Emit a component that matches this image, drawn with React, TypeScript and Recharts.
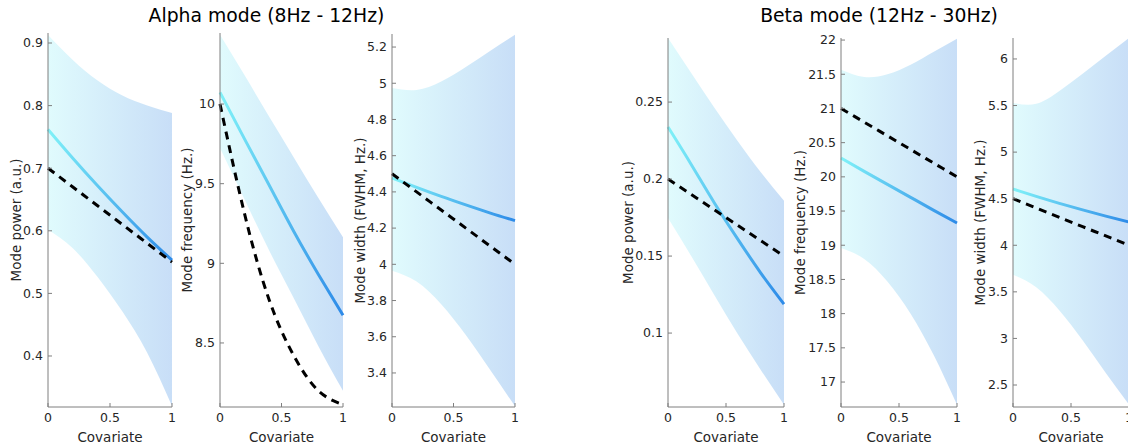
import { ComposedChart, Area, Line, XAxis, YAxis } from "recharts";

// covariate sample points
const covariate = [0, 0.2, 0.4, 0.6, 0.8, 1];

// alpha mode
const alphaPowerUpper = [0.913, 0.873, 0.84, 0.816, 0.8, 0.788];
const alphaPowerLower = [0.602, 0.572, 0.526, 0.471, 0.405, 0.32];
const alphaPowerMean = [0.762, 0.716, 0.672, 0.63, 0.59, 0.553];
const alphaPowerTrue = [0.7, 0.67, 0.64, 0.61, 0.58, 0.55];

const alphaFreqUpper = [10.435, 10.18, 9.92, 9.665, 9.41, 9.163];
const alphaFreqLower = [9.724, 9.4, 9.08, 8.78, 8.48, 8.2];
const alphaFreqMean = [10.073, 9.78, 9.49, 9.2, 8.93, 8.674];
const alphaFreqTrue = [10.0, 9.31, 8.77, 8.42, 8.2, 8.113];

const alphaWidthUpper = [4.974, 4.963, 5.01, 5.09, 5.18, 5.268];
const alphaWidthLower = [3.965, 3.905, 3.78, 3.61, 3.415, 3.216];
const alphaWidthMean = [4.477, 4.425, 4.375, 4.328, 4.283, 4.241];
const alphaWidthTrue = [4.5, 4.4, 4.3, 4.2, 4.1, 4.0];

// beta mode
const betaPowerUpper = [0.2916, 0.2688, 0.2463, 0.2248, 0.2045, 0.186];
const betaPowerLower = [0.1747, 0.15, 0.1245, 0.0995, 0.076, 0.0534];
const betaPowerMean = [0.2338, 0.2095, 0.1845, 0.1612, 0.139, 0.1188];
const betaPowerTrue = [0.2, 0.19, 0.18, 0.17, 0.16, 0.15];

const betaFreqUpper = [21.566, 21.46, 21.5, 21.64, 21.83, 22.02];
const betaFreqLower = [18.96, 18.8, 18.47, 18.0, 17.39, 16.668];
const betaFreqMean = [20.275, 20.08, 19.89, 19.7, 19.51, 19.325];
const betaFreqTrue = [21, 20.8, 20.6, 20.4, 20.2, 20];

const betaWidthUpper = [5.528, 5.518, 5.655, 5.84, 6.035, 6.225];
const betaWidthLower = [3.684, 3.55, 3.3, 2.98, 2.63, 2.29];
const betaWidthMean = [4.604, 4.525, 4.45, 4.38, 4.313, 4.25];
const betaWidthTrue = [4.5, 4.4, 4.3, 4.2, 4.1, 4.0];

const xTicks = [0, 0.5, 1];

const FONT = "'DejaVu Sans', sans-serif";
const AXIS = "#7f7f7f";
const TEXT = "#262626";
const TICK_MARGIN = 5;
const PLOT_BOTTOM = 407;

type Panel = {
  id: string;
  label: string;
  left: number; // pixel of covariate 0
  right: number; // pixel of covariate 1
  top: number;
  labelOffset: number;
  domain: [number, number];
  ticks: number[];
  upper: number[];
  lower: number[];
  mean: number[];
  truth: number[];
};

const panels: Panel[] = [
  {
    id: "ap", label: "Mode power (a.u.)", left: 48, right: 172, top: 33, labelOffset: 32,
    domain: [0.3185, 0.916], ticks: [0.4, 0.5, 0.6, 0.7, 0.8, 0.9],
    upper: alphaPowerUpper, lower: alphaPowerLower, mean: alphaPowerMean, truth: alphaPowerTrue,
  },
  {
    id: "af", label: "Mode frequency (Hz.)", left: 220, right: 343, top: 33, labelOffset: 33,
    domain: [8.098, 10.446], ticks: [8.5, 9, 9.5, 10],
    upper: alphaFreqUpper, lower: alphaFreqLower, mean: alphaFreqMean, truth: alphaFreqTrue,
  },
  {
    id: "aw", label: "Mode width (FWHM, Hz.)", left: 392, right: 515, top: 34, labelOffset: 32,
    domain: [3.212, 5.272], ticks: [3.4, 3.6, 3.8, 4, 4.2, 4.4, 4.6, 4.8, 5, 5.2],
    upper: alphaWidthUpper, lower: alphaWidthLower, mean: alphaWidthMean, truth: alphaWidthTrue,
  },
  {
    id: "bp", label: "Mode power (a.u.)", left: 668, right: 784, top: 38, labelOffset: 40,
    domain: [0.052, 0.2916], ticks: [0.1, 0.15, 0.2, 0.25],
    upper: betaPowerUpper, lower: betaPowerLower, mean: betaPowerMean, truth: betaPowerTrue,
  },
  {
    id: "bf", label: "Mode frequency (Hz.)", left: 841, right: 957, top: 38, labelOffset: 41,
    domain: [16.635, 22.03], ticks: [17, 17.5, 18, 18.5, 19, 19.5, 20, 20.5, 21, 21.5, 22],
    upper: betaFreqUpper, lower: betaFreqLower, mean: betaFreqMean, truth: betaFreqTrue,
  },
  {
    id: "bw", label: "Mode width (FWHM, Hz.)", left: 1013, right: 1129, top: 38, labelOffset: 33,
    domain: [2.264, 6.225], ticks: [2.5, 3, 3.5, 4, 4.5, 5, 5.5, 6],
    upper: betaWidthUpper, lower: betaWidthLower, mean: betaWidthMean, truth: betaWidthTrue,
  },
];

const YTick = (props: any) => {
  const { x, y, payload } = props;
  const ax = x + TICK_MARGIN;
  return (
    <g>
      <line x1={ax} x2={ax + 4} y1={y} y2={y} stroke={AXIS} strokeWidth={1} />
      <text x={x} y={y} dy="0.35em" textAnchor="end" fontSize={12.5} fill={TEXT} fontFamily={FONT}>
        {String(payload.value)}
      </text>
    </g>
  );
};

const XTick = (props: any) => {
  const { x, y, payload } = props;
  const ay = y - 6;
  return (
    <g>
      <line x1={x} x2={x} y1={ay} y2={ay - 4} stroke={AXIS} strokeWidth={1} />
      <text x={x} y={y} dy="0.71em" textAnchor="middle" fontSize={12.5} fill={TEXT} fontFamily={FONT}>
        {String(payload.value)}
      </text>
    </g>
  );
};

function PanelChart({ p }: { p: Panel }) {
  const yWidth = p.labelOffset * 2;
  const rightMargin = 4;
  const chartWidth = yWidth + (p.right - p.left) + rightMargin;
  const data = covariate.map((c, i) => ({
    x: c,
    band: [p.lower[i], p.upper[i]],
    mean: p.mean[i],
    truth: p.truth[i],
  }));
  return (
    <div style={{ position: "absolute", left: p.left - yWidth, top: 0 }}>
      <ComposedChart
        width={chartWidth}
        height={448}
        data={data}
        margin={{ top: p.top, right: rightMargin, bottom: 448 - PLOT_BOTTOM - 40, left: 0 }}
      >
        <defs>
          <linearGradient id={`band-${p.id}`} x1="0" y1="0" x2="1" y2="0">
            <stop offset="0%" stopColor="#e0fbfd" />
            <stop offset="100%" stopColor="#c8def7" />
          </linearGradient>
          <linearGradient id={`line-${p.id}`} x1="0" y1="0" x2="1" y2="0">
            <stop offset="0%" stopColor="#80f2f8" />
            <stop offset="100%" stopColor="#2d8ae8" />
          </linearGradient>
        </defs>
        <XAxis
          dataKey="x"
          type="number"
          domain={[0, 1]}
          ticks={xTicks}
          height={40}
          tickSize={0}
          tickMargin={6}
          tickLine={false}
          stroke={AXIS}
          tick={<XTick />}
          label={{
            value: "Covariate",
            position: "insideBottom",
            offset: 5,
            fill: TEXT,
            fontSize: 13.5,
            fontFamily: FONT,
          }}
        />
        <YAxis
          type="number"
          domain={p.domain}
          ticks={p.ticks}
          width={yWidth}
          allowDataOverflow
          tickSize={0}
          tickMargin={TICK_MARGIN}
          tickLine={false}
          stroke={AXIS}
          tick={<YTick />}
          label={{
            value: p.label,
            angle: -90,
            position: "center",
            fill: TEXT,
            fontSize: 13.5,
            fontFamily: FONT,
          }}
        />
        <Area
          dataKey="band"
          type="natural"
          stroke="none"
          fill={`url(#band-${p.id})`}
          fillOpacity={1}
          isAnimationActive={false}
          activeDot={false}
        />
        <Line
          dataKey="mean"
          type="natural"
          stroke={`url(#line-${p.id})`}
          strokeWidth={3}
          dot={false}
          activeDot={false}
          isAnimationActive={false}
        />
        <Line
          dataKey="truth"
          type="natural"
          stroke="#000000"
          strokeWidth={3}
          strokeDasharray="8 6"
          dot={false}
          activeDot={false}
          isAnimationActive={false}
        />
      </ComposedChart>
    </div>
  );
}

const titleStyle = {
  position: "absolute" as const,
  top: 4,
  textAlign: "center" as const,
  fontSize: 18.8,
  color: "#000",
  whiteSpace: "nowrap" as const,
  lineHeight: "24px",
};

export default function App() {
  return (
    <div
      style={{
        position: "fixed",
        left: 0,
        top: 0,
        width: 1128,
        height: 448,
        overflow: "hidden",
        background: "#ffffff",
        fontFamily: FONT,
      }}
    >
      {panels.map((p) => (
        <PanelChart key={p.id} p={p} />
      ))}
      <div style={{ ...titleStyle, left: 120, width: 293 }}>Alpha mode (8Hz - 12Hz)</div>
      <div style={{ ...titleStyle, left: 732, width: 294 }}>Beta mode (12Hz - 30Hz)</div>
    </div>
  );
}
